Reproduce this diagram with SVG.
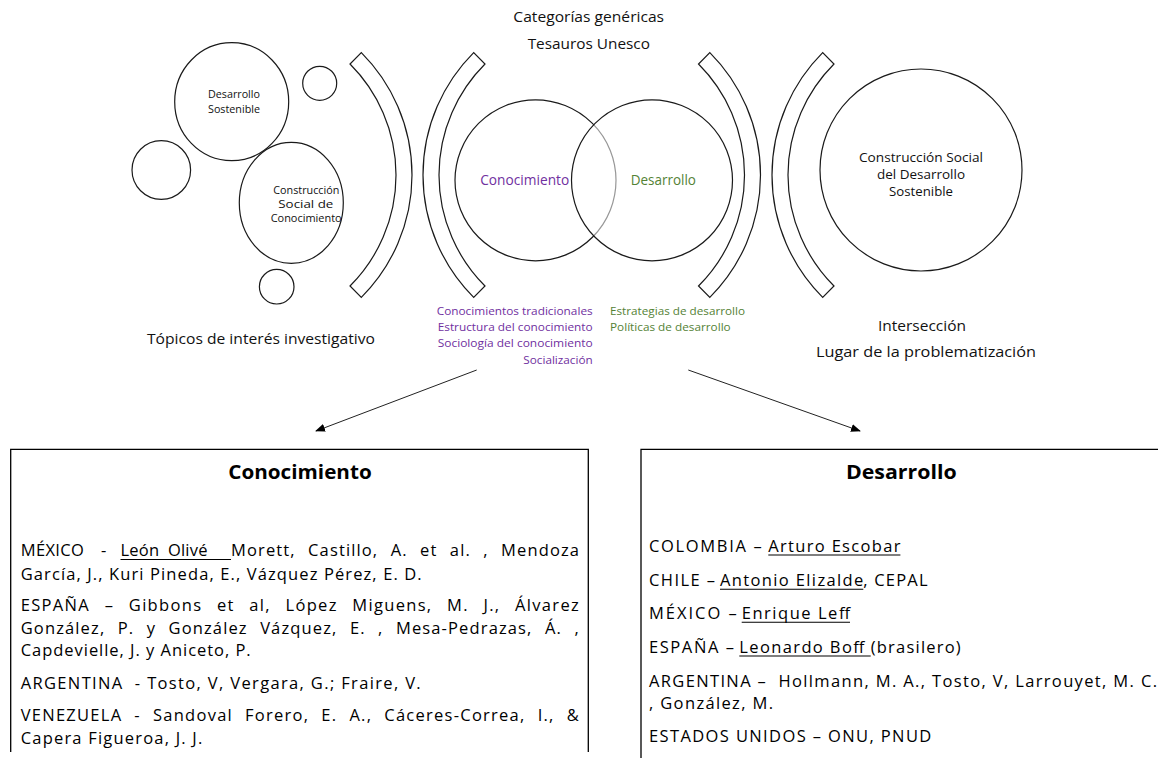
<svg xmlns="http://www.w3.org/2000/svg" width="1158" height="761" viewBox="0 0 1158 761">
<style>
text{font-family:"Open Sans","Noto Sans","Liberation Sans",sans-serif;fill:#111}
.shape{fill:none;stroke:#1a1a1a;stroke-width:1.2}
.arc{fill:#fff;stroke:#1a1a1a;stroke-width:1.2}
.small{font-size:10.5px}
.mid{font-size:12.5px}
.lab{font-size:14px}
.list{font-size:11.5px}
.purple{fill:#7030A0}
.green{fill:#548235}
.body{font-size:16.5px;fill:#000;white-space:pre}
.head{font-size:19.5px;font-weight:bold;fill:#000}
.box{fill:none;stroke:#000;stroke-width:1.3}
.conn{stroke:#222;stroke-width:1;fill:none}
.ul{stroke:#000;stroke-width:1.1}
</style>
<defs>
<marker id="ah" markerWidth="10" markerHeight="8" refX="9" refY="4" orient="auto" markerUnits="userSpaceOnUse">
<path d="M0,0 L10,4 L0,8 Z" fill="#000"/>
</marker>
</defs>

<g id="title">
<text class="lab" x="588.7" y="21.7" text-anchor="middle" textLength="150.7" lengthAdjust="spacingAndGlyphs">Categorías genéricas</text>
<text class="lab" x="588.8" y="49" text-anchor="middle" textLength="122.3" lengthAdjust="spacingAndGlyphs">Tesauros Unesco</text>
</g>

<g id="topicos">
<ellipse class="shape" cx="231.7" cy="101.7" rx="57" ry="59"/>
<text class="small" x="234" y="98.3" text-anchor="middle" textLength="52" lengthAdjust="spacingAndGlyphs">Desarrollo</text>
<text class="small" x="234" y="112.7" text-anchor="middle" textLength="52" lengthAdjust="spacingAndGlyphs">Sostenible</text>
<circle class="shape" cx="319.7" cy="83.3" r="17"/>
<circle class="shape" cx="161.3" cy="170" r="29.3"/>
<ellipse class="shape" cx="291.3" cy="202.8" rx="52" ry="60.5"/>
<text class="small" x="306.3" y="194" text-anchor="middle" textLength="66" lengthAdjust="spacingAndGlyphs">Construcción</text>
<text class="small" x="305.8" y="208.3" text-anchor="middle" textLength="55" lengthAdjust="spacingAndGlyphs">Social de</text>
<text class="small" x="306.2" y="221.7" text-anchor="middle" textLength="71" lengthAdjust="spacingAndGlyphs">Conocimiento</text>
<circle class="shape" cx="276.7" cy="286.7" r="17.3"/>
<text class="lab" x="147" y="344" textLength="228" lengthAdjust="spacingAndGlyphs">Tópicos de interés investigativo</text>
</g>

<g id="arcs">
<path class="arc" d="M361.33,52.67 A173,173 0 0 1 361.33,297.33 L350.02,286.02 A157,157 0 0 0 350.02,63.98 Z"/>
<path class="arc" d="M473.67,52.67 A173,173 0 0 0 473.67,297.33 L484.98,286.02 A157,157 0 0 1 484.98,63.98 Z"/>
<path class="arc" d="M709.83,52.67 A173,173 0 0 1 709.83,297.33 L698.52,286.02 A157,157 0 0 0 698.52,63.98 Z"/>
<path class="arc" d="M822.67,52.67 A173,173 0 0 0 822.67,297.33 L833.98,286.02 A157,157 0 0 1 833.98,63.98 Z"/>
</g>

<g id="venn-conocimiento">
<circle class="shape" cx="535.5" cy="180.3" r="80.5"/>
</g>
<g id="venn-desarrollo">
<circle cx="652" cy="180.3" r="80.5" fill="#fff" fill-opacity="0.55" stroke="#1a1a1a" stroke-width="1.2"/>
<text class="lab purple" x="524.7" y="185" text-anchor="middle" textLength="89" lengthAdjust="spacingAndGlyphs">Conocimiento</text>
<text class="lab green" x="663.3" y="185" text-anchor="middle" textLength="65.3" lengthAdjust="spacingAndGlyphs">Desarrollo</text>
</g>

<g id="listas">
<text class="list purple" x="592.7" y="315" text-anchor="end" textLength="156" lengthAdjust="spacingAndGlyphs">Conocimientos tradicionales</text>
<text class="list purple" x="592.7" y="330.7" text-anchor="end" textLength="155" lengthAdjust="spacingAndGlyphs">Estructura del conocimiento</text>
<text class="list purple" x="592.7" y="347.3" text-anchor="end" textLength="155" lengthAdjust="spacingAndGlyphs">Sociología del conocimiento</text>
<text class="list purple" x="592.7" y="364" text-anchor="end" textLength="69.4" lengthAdjust="spacingAndGlyphs">Socialización</text>
<text class="list green" x="610" y="315" textLength="135" lengthAdjust="spacingAndGlyphs">Estrategias de desarrollo</text>
<text class="list green" x="610" y="330.7" textLength="120.7" lengthAdjust="spacingAndGlyphs">Políticas de desarrollo</text>
</g>

<g id="interseccion">
<circle class="shape" cx="921" cy="170" r="101"/>
<text class="mid" x="921" y="162.3" text-anchor="middle" textLength="124" lengthAdjust="spacingAndGlyphs">Construcción Social</text>
<text class="mid" x="921" y="179.3" text-anchor="middle" textLength="88" lengthAdjust="spacingAndGlyphs">del Desarrollo</text>
<text class="mid" x="921" y="196" text-anchor="middle" textLength="64" lengthAdjust="spacingAndGlyphs">Sostenible</text>
<text class="lab" x="922" y="331" text-anchor="middle" textLength="88" lengthAdjust="spacingAndGlyphs">Intersección</text>
<text class="lab" x="816" y="357" textLength="220" lengthAdjust="spacingAndGlyphs">Lugar de la problematización</text>
</g>

<g id="connectors">
<line class="conn" x1="476.7" y1="370" x2="316" y2="431" marker-end="url(#ah)"/>
<line class="conn" x1="688.3" y1="370" x2="860" y2="431" marker-end="url(#ah)"/>
</g>

<g id="box-conocimiento">
<path class="box" d="M10.7,752 V449.3 H588.3 V752"/>
<text class="head" x="300" y="478.5" text-anchor="middle" textLength="143.4" lengthAdjust="spacingAndGlyphs">Conocimiento</text>
<text class="body" x="20.7" y="556" textLength="85.5" lengthAdjust="spacing" word-spacing="12">MÉXICO -</text>
<text class="body" x="120.5" y="556" textLength="87" lengthAdjust="spacing" word-spacing="4">León Olivé</text>
<text class="body" x="231" y="556" textLength="348" lengthAdjust="spacing" word-spacing="7">Morett, Castillo, A. et al. , Mendoza</text>
<line class="ul" x1="120.5" y1="559.5" x2="231" y2="559.5"/>
<text class="body" x="20.7" y="579.5" textLength="401" lengthAdjust="spacing">García, J., Kuri Pineda, E., Vázquez Pérez, E. D.</text>
<text class="body" x="20.7" y="611" textLength="558" lengthAdjust="spacing" word-spacing="9">ESPAÑA – Gibbons et al, López Miguens, M. J., Álvarez</text>
<text class="body" x="20.7" y="633.5" textLength="558" lengthAdjust="spacing" word-spacing="7">González, P. y González Vázquez, E. , Mesa-Pedrazas, Á. ,</text>
<text class="body" x="20.7" y="656" textLength="230" lengthAdjust="spacing">Capdevielle, J. y Aniceto, P.</text>
<text class="body" x="20.7" y="688.5" textLength="400" lengthAdjust="spacing">ARGENTINA  - Tosto, V, Vergara, G.; Fraire, V.</text>
<text class="body" x="20.7" y="721" textLength="558" lengthAdjust="spacing" word-spacing="6.5">VENEZUELA - Sandoval Forero, E. A., Cáceres-Correa, I., &amp;</text>
<text class="body" x="20.7" y="744" textLength="181.6" lengthAdjust="spacing">Capera Figueroa, J. J.</text>
</g>

<g id="box-desarrollo">
<path class="box" d="M641,758 V449.3 H1160"/>
<text class="head" x="901.3" y="478.5" text-anchor="middle" textLength="110.7" lengthAdjust="spacingAndGlyphs">Desarrollo</text>
<text class="body" x="649" y="551.7" textLength="112.7" lengthAdjust="spacing">COLOMBIA –</text>
<text class="body" x="768.3" y="551.7" textLength="132.1" lengthAdjust="spacing">Arturo Escobar</text>
<line class="ul" x1="768.3" y1="555" x2="900.4" y2="555"/>
<text class="body" x="649" y="586" textLength="66" lengthAdjust="spacing">CHILE –</text>
<text class="body" x="720" y="586" textLength="143.3" lengthAdjust="spacing">Antonio Elizalde</text>
<text class="body" x="863.3" y="586" textLength="64.2" lengthAdjust="spacing">, CEPAL</text>
<line class="ul" x1="720" y1="589.3" x2="863.3" y2="589.3"/>
<text class="body" x="649" y="619" textLength="87.7" lengthAdjust="spacing">MÉXICO –</text>
<text class="body" x="741.7" y="619" textLength="108.3" lengthAdjust="spacing">Enrique Leff</text>
<line class="ul" x1="741.7" y1="622.3" x2="850" y2="622.3"/>
<text class="body" x="649" y="652.7" textLength="85" lengthAdjust="spacing">ESPAÑA –</text>
<text class="body" x="739.3" y="652.7" textLength="125" lengthAdjust="spacing">Leonardo Boff</text>
<text class="body" x="870.7" y="652.7" textLength="90" lengthAdjust="spacing">(brasilero)</text>
<line class="ul" x1="739.3" y1="656" x2="870.7" y2="656"/>
<text class="body" x="649" y="686.7" textLength="508" lengthAdjust="spacing">ARGENTINA –  Hollmann, M. A., Tosto, V, Larrouyet, M. C.</text>
<text class="body" x="649" y="708.7" textLength="124" lengthAdjust="spacing">, González, M.</text>
<text class="body" x="649" y="741.7" textLength="282.3" lengthAdjust="spacing">ESTADOS UNIDOS – ONU, PNUD</text>
</g>
</svg>
